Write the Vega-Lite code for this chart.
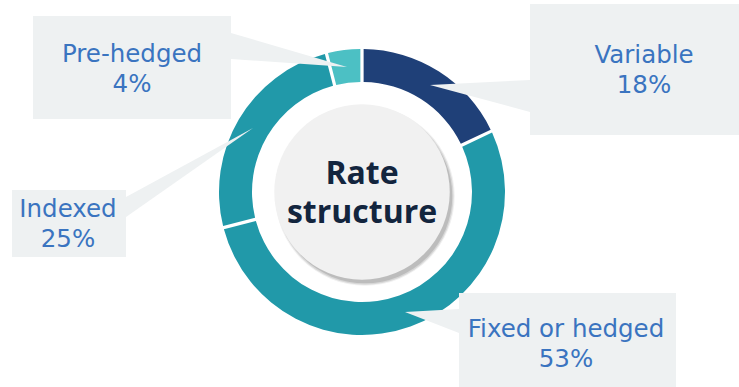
{
  "$schema": "https://vega.github.io/schema/vega-lite/v6.json",
  "width": 739,
  "height": 387,
  "padding": 0,
  "autosize": {"type": "fit", "contains": "padding"},
  "background": "white",
  "view": {"stroke": null},
  "config": {"axis": {"disable": true}},
  "datasets": {
    "shares": [
      {"category": "Variable", "share": 0.18, "order": 1},
      {"category": "Fixed or hedged", "share": 0.53, "order": 2},
      {"category": "Indexed", "share": 0.25, "order": 3},
      {"category": "Pre-hedged", "share": 0.04, "order": 4}
    ],
    "callouts": [
      {"category": "Pre-hedged", "left": 33, "right": 231, "top": 16, "bottom": 119, "cx": 132, "ty": 62},
      {"category": "Variable", "left": 530, "right": 739, "top": 4, "bottom": 135, "cx": 644, "ty": 63},
      {"category": "Fixed or hedged", "left": 459, "right": 676, "top": 293, "bottom": 387, "cx": 566, "ty": 337},
      {"category": "Indexed", "left": 12, "right": 126, "top": 190, "bottom": 257, "cx": 68, "ty": 217}
    ],
    "leaders": [
      {"category": "Pre-hedged", "px": 231, "ylo": 33, "yhi": 59},
      {"category": "Pre-hedged", "px": 347, "ylo": 67, "yhi": 67},
      {"category": "Variable", "px": 430, "ylo": 85, "yhi": 85},
      {"category": "Variable", "px": 530, "ylo": 80, "yhi": 112},
      {"category": "Fixed or hedged", "px": 405, "ylo": 312, "yhi": 312},
      {"category": "Fixed or hedged", "px": 459, "ylo": 309, "yhi": 333},
      {"category": "Indexed", "px": 126, "ylo": 197, "yhi": 217},
      {"category": "Indexed", "px": 253, "ylo": 128, "yhi": 128}
    ],
    "centre": [
      {"title1": "Rate", "title2": "structure", "cx": 362, "cy": 192}
    ]
  },
  "layer": [
    {
      "data": {"name": "shares"},
      "mark": {"type": "arc", "outerRadius": 143, "innerRadius": 110, "padAngle": 0.018},
      "encoding": {
        "x": {"datum": 362, "type": "quantitative", "scale": {"domain": [0, 739], "nice": false, "zero": false}},
        "y": {"datum": 192, "type": "quantitative", "scale": {"domain": [0, 387], "nice": false, "zero": false, "reverse": true}},
        "theta": {"field": "share", "type": "quantitative", "stack": true},
        "order": {"field": "order", "type": "quantitative"},
        "color": {
          "field": "category", "type": "nominal", "legend": null,
          "scale": {"domain": ["Variable", "Fixed or hedged", "Indexed", "Pre-hedged"], "range": ["#1f4078", "#2199a9", "#2199a9", "#4cc0c4"]}
        }
      }
    },
    {
      "data": {"name": "callouts"},
      "mark": {"type": "rect", "fill": "#eef1f2"},
      "encoding": {
        "x": {"field": "left", "type": "quantitative"},
        "x2": {"field": "right"},
        "y": {"field": "top", "type": "quantitative"},
        "y2": {"field": "bottom"}
      }
    },
    {
      "data": {"name": "leaders"},
      "mark": {"type": "area", "fill": "#eef1f2", "orient": "vertical"},
      "encoding": {
        "x": {"field": "px", "type": "quantitative"},
        "y": {"field": "ylo", "type": "quantitative"},
        "y2": {"field": "yhi"},
        "detail": {"field": "category"}
      }
    },
    {
      "data": {"name": "centre"},
      "mark": {"type": "point", "shape": "circle", "filled": true, "fill": "#000000", "opacity": 0.06, "size": 32200, "xOffset": 3, "yOffset": 4},
      "encoding": {"x": {"field": "cx", "type": "quantitative"}, "y": {"field": "cy", "type": "quantitative"}}
    },
    {
      "data": {"name": "centre"},
      "mark": {"type": "point", "shape": "circle", "filled": true, "fill": "#000000", "opacity": 0.1, "size": 31400, "xOffset": 3, "yOffset": 4},
      "encoding": {"x": {"field": "cx", "type": "quantitative"}, "y": {"field": "cy", "type": "quantitative"}}
    },
    {
      "data": {"name": "centre"},
      "mark": {"type": "point", "shape": "circle", "filled": true, "fill": "#000000", "opacity": 0.12, "size": 30500, "xOffset": 3, "yOffset": 4},
      "encoding": {"x": {"field": "cx", "type": "quantitative"}, "y": {"field": "cy", "type": "quantitative"}}
    },
    {
      "data": {"name": "centre"},
      "mark": {"type": "point", "shape": "circle", "filled": true, "fill": "#f1f1f1", "opacity": 1, "size": 30800},
      "encoding": {"x": {"field": "cx", "type": "quantitative"}, "y": {"field": "cy", "type": "quantitative"}}
    },
    {
      "data": {"name": "centre"},
      "mark": {"type": "text", "font": "Open Sans", "fontWeight": "bold", "fontSize": 32, "color": "#13253e", "align": "center", "baseline": "alphabetic", "dy": -8},
      "encoding": {"x": {"field": "cx", "type": "quantitative"}, "y": {"field": "cy", "type": "quantitative"}, "text": {"field": "title1"}}
    },
    {
      "data": {"name": "centre"},
      "mark": {"type": "text", "font": "Open Sans", "fontWeight": "bold", "fontSize": 32, "color": "#13253e", "align": "center", "baseline": "alphabetic", "dy": 31},
      "encoding": {"x": {"field": "cx", "type": "quantitative"}, "y": {"field": "cy", "type": "quantitative"}, "text": {"field": "title2"}}
    },
    {
      "data": {"name": "callouts"},
      "mark": {"type": "text", "font": "DejaVu Sans", "fontSize": 24.5, "color": "#3a74c0", "align": "center", "baseline": "alphabetic"},
      "encoding": {"x": {"field": "cx", "type": "quantitative"}, "y": {"field": "ty", "type": "quantitative"}, "text": {"field": "category"}}
    },
    {
      "data": {"name": "callouts"},
      "transform": [{"lookup": "category", "from": {"data": {"name": "shares"}, "key": "category", "fields": ["share"]}}],
      "mark": {"type": "text", "font": "DejaVu Sans", "fontSize": 24.5, "color": "#3a74c0", "align": "center", "baseline": "alphabetic", "dy": 30},
      "encoding": {"x": {"field": "cx", "type": "quantitative"}, "y": {"field": "ty", "type": "quantitative"}, "text": {"field": "share", "type": "quantitative", "format": ".0%"}}
    }
  ]
}
